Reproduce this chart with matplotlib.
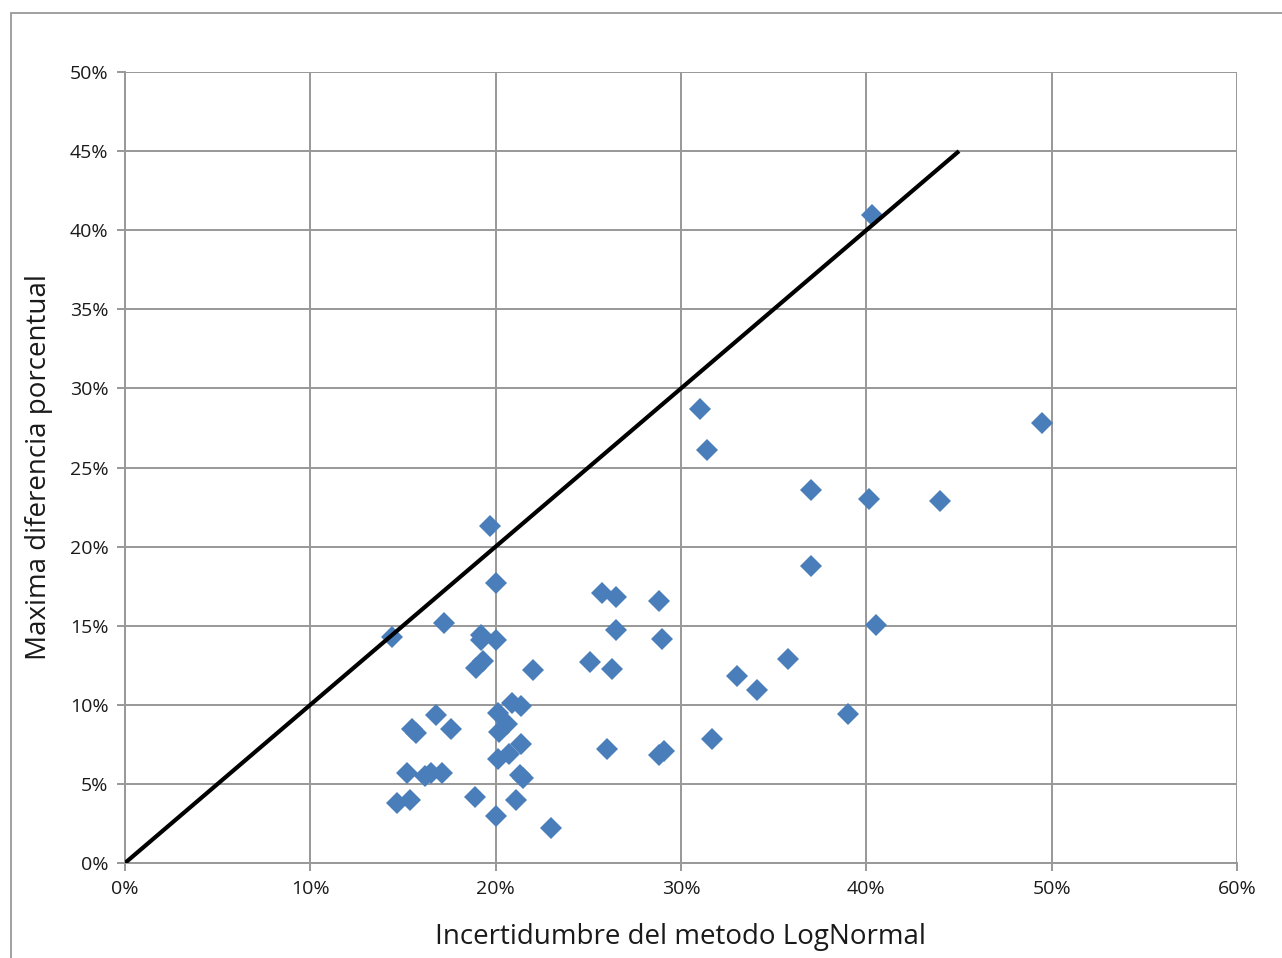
import matplotlib
matplotlib.use("Agg")
import matplotlib.pyplot as plt
from matplotlib.ticker import FuncFormatter
from matplotlib.patches import Rectangle

plt.rcParams['font.family'] = ['Open Sans', 'DejaVu Sans']

# Incertidumbre del metodo LogNormal (%)
incertidumbre = [
    14.4, 17.2, 19.7, 20.0, 19.2, 19.2, 20.0, 19.3, 18.95, 22.0,
    20.9, 21.35, 20.1, 20.6, 20.2, 16.8, 15.5, 15.7, 17.6, 21.35,
    20.15, 20.7, 15.2, 16.2, 16.5, 17.1, 21.3, 21.5, 14.7, 15.4,
    18.9, 21.1, 20.0, 23.0,
    25.75, 26.5, 28.83, 26.5, 29.0, 25.1, 26.3, 33.0, 34.1, 31.67,
    26.0, 28.8, 29.1,
    40.3, 31.0, 31.4, 49.5, 37.0, 40.15, 44.0, 37.0, 40.5, 35.8, 39.0,
]
# Maxima diferencia porcentual (%)
diferencia = [
    14.3, 15.2, 21.3, 17.7, 14.4, 14.1, 14.1, 12.8, 12.3, 12.2,
    10.1, 9.9, 9.5, 8.8, 8.3, 9.35, 8.5, 8.2, 8.5, 7.5,
    6.57, 6.9, 5.7, 5.5, 5.66, 5.72, 5.56, 5.35, 3.8, 4.0,
    4.15, 3.98, 2.97, 2.2,
    17.04, 16.8, 16.58, 14.73, 14.14, 12.7, 12.26, 11.84, 10.93, 7.82,
    7.2, 6.83, 7.1,
    40.96, 28.7, 26.1, 27.8, 23.58, 23.0, 22.88, 18.77, 15.04, 12.9, 9.42,
]
# Reference line y = x
linea_x = [0, 45]
linea_y = [0, 45]

x_ticks = [0, 10, 20, 30, 40, 50, 60]
y_ticks = [0, 5, 10, 15, 20, 25, 30, 35, 40, 45, 50]

grid_color = '#989898'

fig = plt.figure(figsize=(12.82, 9.58), dpi=100)
fig.patches.append(Rectangle((11 / 1282, -0.05), 1.2, 1 - 13 / 958 + 0.05,
                             transform=fig.transFigure, fill=False,
                             edgecolor=grid_color, linewidth=1.3))

ax = fig.add_axes([125 / 1282, 1 - 863 / 958, (1237 - 125) / 1282, (863 - 72) / 958])
ax.set_xlim(0, 60)
ax.set_ylim(0, 50)
ax.set_xticks(x_ticks)
ax.set_yticks(y_ticks)
pct = FuncFormatter(lambda v, _: f"{v:.0f}%")
ax.xaxis.set_major_formatter(pct)
ax.yaxis.set_major_formatter(pct)

ax.grid(True, color=grid_color, linewidth=1.4)
ax.set_axisbelow(True)
for side in ['top', 'right']:
    ax.spines[side].set_visible(False)
for side in ['left', 'bottom']:
    ax.spines[side].set_color(grid_color)
    ax.spines[side].set_linewidth(1.4)
ax.tick_params(axis='both', direction='out', length=6, width=1.4, color=grid_color,
               labelsize=14, labelcolor='#1a1a1a', pad=6)

ax.plot(incertidumbre, diferencia, linestyle='none', marker='D', markersize=11,
        color='#4a7ebb', markeredgewidth=0, zorder=3)
ax.plot(linea_x, linea_y, color='black', linewidth=3, solid_capstyle='butt', zorder=4)

ax.set_xlabel('Incertidumbre del metodo LogNormal', fontsize=20, color='#1a1a1a', labelpad=18)
ax.set_ylabel('Maxima diferencia porcentual', fontsize=20, color='#1a1a1a', labelpad=12)

fig.savefig('out.png', dpi=100, facecolor='white')
